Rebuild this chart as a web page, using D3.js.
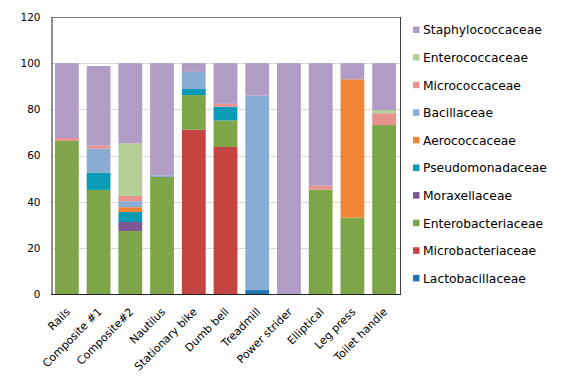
<!DOCTYPE html>
<html>
<head>
<meta charset="utf-8">
<script src="https://cdn.jsdelivr.net/npm/d3@7"></script>
<style>
  body { margin: 0; background: #fff; }
  text { font-family: "DejaVu Sans", Verdana, sans-serif; fill: #000; }
</style>
</head>
<body>
<div id="visual"></div>
<script>
var w = 580, h = 384;

// sites on the x axis
var sites = ["Rails", "Composite #1", "Composite#2", "Nautilus", "Stationary bike",
  "Dumb bell", "Treadmill", "Power strider", "Elliptical", "Leg press", "Toilet handle"];

// one array per family, same order as sites (percent)
var lactobacillaceae   = [0, 0, 0, 0, 0, 0, 1.7, 0, 0, 0, 0];
var microbacteriaceae  = [0, 0, 0, 0, 71.2, 63.7, 0, 0, 0, 0, 0];
var enterobacteriaceae = [66.3, 45.1, 27.3, 50.7, 15, 11.5, 0, 0, 45.2, 33.1, 73.2];
var moraxellaceae      = [0, 0, 3.9, 0, 0, 0, 0, 0, 0, 0, 0];
var pseudomonadaceae   = [0, 7.5, 4.3, 0, 2.6, 5.9, 0, 0, 0, 0, 0];
var aerococcaceae      = [0, 0, 2.1, 0, 0, 0, 0, 0, 0, 59.9, 0];
var bacillaceae        = [0, 10.4, 2.6, 0.7, 7.4, 0, 84.3, 0, 0, 0, 0];
var micrococcaceae     = [1.3, 1.3, 2.3, 0, 0, 1.3, 0, 0, 1.7, 0, 5.1];
var enterococcaceae    = [0, 0, 22.8, 0, 0, 0, 0, 0, 0, 0, 1.4];
var staphylococcaceae  = [32.4, 34.5, 34.7, 48.6, 3.8, 17.6, 14, 100, 53.1, 7, 20.3];

var yTicks = [0, 20, 40, 60, 80, 100, 120];

// stacking order, bottom first
var series = [
  { name: "Lactobacillaceae", values: lactobacillaceae, color: "#1f74b4" },
  { name: "Microbacteriaceae", values: microbacteriaceae, color: "#c44441" },
  { name: "Enterobacteriaceae", values: enterobacteriaceae, color: "#7ea547" },
  { name: "Moraxellaceae", values: moraxellaceae, color: "#7e5694" },
  { name: "Pseudomonadaceae", values: pseudomonadaceae, color: "#099bb5" },
  { name: "Aerococcaceae", values: aerococcaceae, color: "#f28533" },
  { name: "Bacillaceae", values: bacillaceae, color: "#8aabd3" },
  { name: "Micrococcaceae", values: micrococcaceae, color: "#e6928f" },
  { name: "Enterococcaceae", values: enterococcaceae, color: "#b3cf95" },
  { name: "Staphylococcaceae", values: staphylococcaceae, color: "#b09cc4" }
];

var rows = sites.map(function(s, i) {
  var r = { site: s };
  series.forEach(function(d) { r[d.name] = d.values[i]; });
  return r;
});

var pLeft = 51, pRight = 400, pTop = 17, pBottom = 294;

var x = d3.scaleBand().domain(sites).range([pLeft, pRight])
  .paddingInner(0.25).paddingOuter(0.125);
var y = d3.scaleLinear().domain([0, 120]).range([pBottom, pTop]);

var svg = d3.select("#visual").append("svg")
  .attr("width", w)
  .attr("height", h);

// gridlines
svg.append("g")
  .selectAll("line")
  .data(yTicks.slice(1))
  .enter().append("line")
    .attr("x1", pLeft).attr("x2", pRight)
    .attr("y1", function(d) { return Math.round(y(d)) + 0.5; })
    .attr("y2", function(d) { return Math.round(y(d)) + 0.5; })
    .attr("stroke", "#d9d9d9");

var stack = d3.stack().keys(series.map(function(d) { return d.name; }));
var layers = stack(rows);

svg.append("g")
  .selectAll("g")
  .data(layers)
  .enter().append("g")
    .attr("fill", function(d, i) { return series[i].color; })
  .selectAll("rect")
  .data(function(d) { return d; })
  .enter().append("rect")
    .attr("x", function(d) { return x(d.data.site); })
    .attr("width", x.bandwidth())
    .attr("y", function(d) { return y(d[1]); })
    .attr("height", function(d) { return y(d[0]) - y(d[1]); });

// plot frame
svg.append("line").attr("x1", pLeft).attr("x2", pRight).attr("y1", pTop + 0.5).attr("y2", pTop + 0.5)
  .attr("stroke", "#7f7f7f");
svg.append("line").attr("x1", pRight + 0.5).attr("x2", pRight + 0.5).attr("y1", pTop).attr("y2", pBottom)
  .attr("stroke", "#404040");

// y axis
var yAxis = svg.append("g")
  .attr("transform", "translate(" + (pLeft + 0.5) + ",0)")
  .call(d3.axisLeft(y).tickValues(yTicks).tickSize(0).tickPadding(11));
yAxis.select(".domain").attr("stroke", "#222");
yAxis.selectAll("text").style("font-size", "10.5px").style("font-family", "DejaVu Sans");

// x axis
var xAxis = svg.append("g")
  .attr("transform", "translate(0," + (pBottom + 0.5) + ")")
  .call(d3.axisBottom(x).tickSize(0).tickSizeOuter(0));
xAxis.select(".domain").attr("stroke", "#222").attr("d", "M" + pLeft + ",0H" + (pRight + 1));
xAxis.selectAll("text")
  .style("font-size", "11px")
  .style("font-family", "DejaVu Sans")
  .attr("text-anchor", "end")
  .attr("dy", null)
  .attr("y", 0)
  .attr("transform", "translate(4,18) rotate(-45)");

// legend
var legend = svg.append("g")
  .selectAll("g")
  .data(series.slice().reverse())
  .enter().append("g")
    .attr("transform", function(d, i) { return "translate(413," + (30 + i * 27.6) + ")"; });

legend.append("rect")
  .attr("x", 0).attr("y", -3.5)
  .attr("width", 6.5).attr("height", 6.5)
  .attr("fill", function(d) { return d.color; });

legend.append("text")
  .attr("x", 10)
  .attr("dy", "0.35em")
  .style("font-size", "12.3px")
  .text(function(d) { return d.name; });
</script>
</body>
</html>
